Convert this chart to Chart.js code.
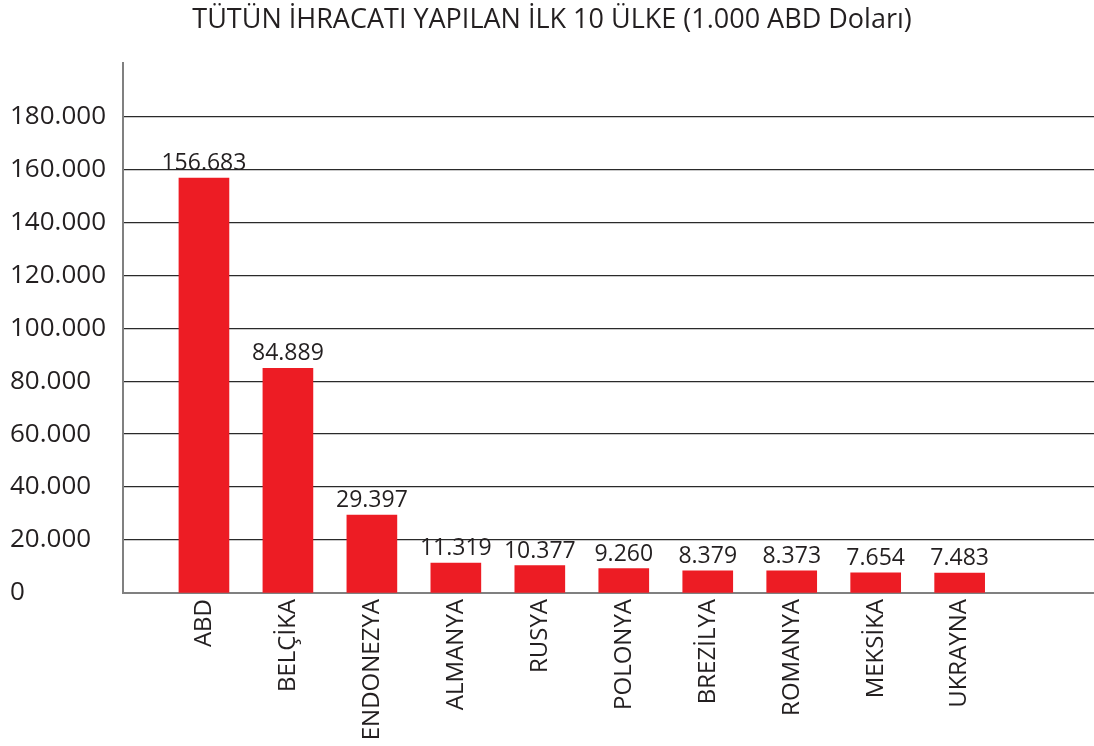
<!DOCTYPE html>
<html><head><meta charset="utf-8">
<script src="https://cdn.jsdelivr.net/npm/chart.js@4.4.0/dist/chart.umd.min.js"></script>
<style>html,body{margin:0;padding:0;background:#fff;} canvas{display:block}</style>
</head><body>
<canvas id="c" width="1094" height="746"></canvas>
<script>
const chartTitle = 'TÜTÜN İHRACATI YAPILAN İLK 10 ÜLKE (1.000 ABD Doları)';
const countries = ['ABD','BELÇİKA','ENDONEZYA','ALMANYA','RUSYA','POLONYA','BREZİLYA','ROMANYA','MEKSİKA','UKRAYNA'];
const exportValues = [156683, 84889, 29397, 11319, 10377, 9260, 8379, 8373, 7654, 7483];
const yTickValues = [0, 20000, 40000, 60000, 80000, 100000, 120000, 140000, 160000, 180000];
const yMax = 200000;

function fmt(n){ return String(n).replace(/\B(?=(\d{3})+(?!\d))/g, '.'); }

const FONT = "'Open Sans', 'Noto Sans', sans-serif";
const TEXT = '#231f20';

const valueLabels = {
  id: 'valueLabels',
  afterDatasetsDraw(chart){
    const ctx = chart.ctx;
    const meta = chart.getDatasetMeta(0);
    ctx.save();
    ctx.font = "23px " + FONT;
    ctx.fillStyle = TEXT;
    ctx.textAlign = 'center';
    ctx.textBaseline = 'bottom';
    meta.data.forEach((bar, i) => {
      ctx.fillText(fmt(exportValues[i]), bar.x, bar.y - 3);
    });
    ctx.restore();
  }
};

new Chart(document.getElementById('c'), {
  type: 'bar',
  data: {
    datasets: [{
      data: exportValues.map((v, i) => ({x: i, y: v})),
      backgroundColor: '#ED1C24',
      borderWidth: 0,
      barThickness: 50
    }]
  },
  options: {
    responsive: false,
    animation: false,
    devicePixelRatio: 1,
    layout: { padding: { left: 10, right: 0, top: 0, bottom: 0 } },
    plugins: {
      legend: { display: false },
      tooltip: { enabled: false },
      title: {
        display: true,
        text: chartTitle,
        color: TEXT,
        font: { family: FONT, size: 27, weight: 'normal' },
        padding: { top: 4, bottom: 27 }
      }
    },
    scales: {
      x: {
        type: 'linear',
        offset: false,
        min: -0.964,
        max: 10.6,
        grid: { display: false, drawTicks: false },
        border: { display: true, color: '#808080', width: 2 },
        afterBuildTicks(scale){ scale.ticks = countries.map((_, i) => ({ value: i })); },
        afterFit(scale){ scale.height = 153; },
        ticks: {
          autoSkip: false,
          maxRotation: 90,
          minRotation: 90,
          padding: 6,
          color: TEXT,
          font: { family: FONT, size: 24 },
          callback: (v) => countries[v] !== undefined ? countries[v] : ''
        }
      },
      y: {
        min: 0,
        max: yMax,
        afterBuildTicks(scale){ scale.ticks = yTickValues.concat([yMax]).map(v => ({ value: v })); },
        afterFit(scale){ scale.width = 113; },
        grid: {
          drawTicks: false,
          color: (c) => (c.tick && c.tick.value === yMax) || (c.tick && c.tick.value === 0) ? 'rgba(0,0,0,0)' : '#2a2a2a',
          lineWidth: 1.3
        },
        border: { display: true, color: '#808080', width: 2 },
        ticks: {
          crossAlign: 'far',
          padding: 10,
          color: TEXT,
          font: { family: FONT, size: 26 },
          callback: (v) => v === yMax ? '' : fmt(v)
        }
      }
    }
  },
  plugins: [valueLabels]
});
</script>
</body></html>
